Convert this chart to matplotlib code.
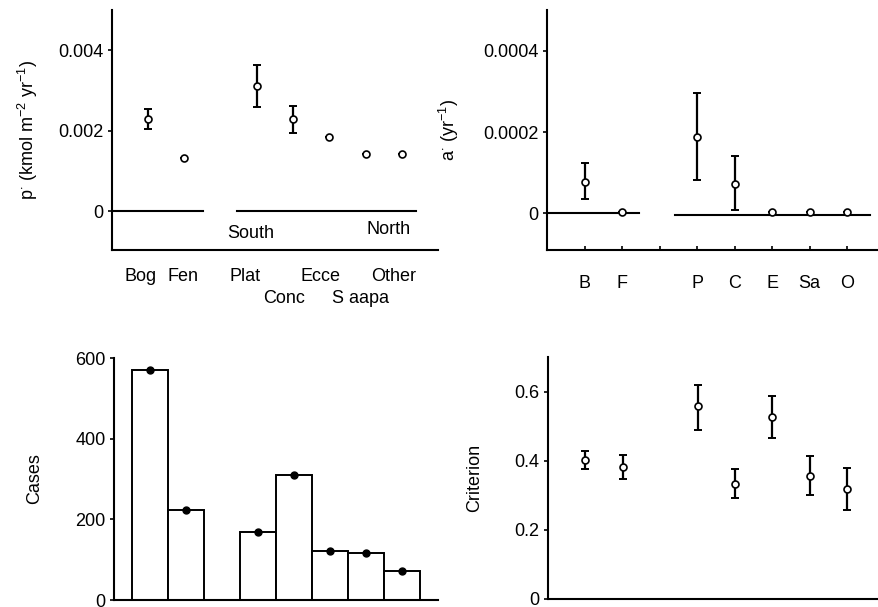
import matplotlib
matplotlib.use("Agg")
import matplotlib.pyplot as plt
import matplotlib.transforms as mtransforms

plt.rcParams["font.family"] = ["Liberation Sans", "DejaVu Sans"]
plt.rcParams["mathtext.fontset"] = "custom"
plt.rcParams["mathtext.rm"] = "Liberation Sans"
plt.rcParams["mathtext.it"] = "Liberation Sans"
FS = 13

# ---- data ----
p_names = ["Bog", "Fen", "Plat", "Conc", "Ecce", "S aapa", "Other"]
p_row = [0, 0, 0, 1, 0, 1, 0]
p_x = [1, 2, 4, 5, 6, 7, 8]
p_val = [0.00229, 0.00132, 0.00311, 0.00229, 0.00184, 0.00142, 0.00142]
p_lo = [0.00204, 0.00132, 0.00258, 0.00194, 0.00184, 0.00142, 0.00142]
p_hi = [0.00253, 0.00132, 0.00363, 0.00261, 0.00184, 0.00142, 0.00142]

a_names = ["B", "F", "", "P", "C", "E", "Sa", "O"]
a_ticks = [1, 2, 3, 4, 5, 6, 7, 8]
a_x = [1, 2, 4, 5, 6, 7, 8]
a_val = [0.0000785, 0.000003, 0.000189, 0.0000736, 0.000003, 0.000003, 0.000003]
a_lo = [0.0000344, 0.000003, 0.0000834, 0.0000074, 0.000003, 0.000003, 0.000003]
a_hi = [0.000123, 0.000003, 0.000297, 0.000142, 0.000003, 0.000003, 0.000003]

cases = [570, 224, 169, 311, 122, 117, 72]

crit_val = [0.403, 0.383, 0.557, 0.333, 0.525, 0.357, 0.319]
crit_lo = [0.377, 0.348, 0.490, 0.293, 0.467, 0.301, 0.258]
crit_hi = [0.429, 0.417, 0.620, 0.377, 0.586, 0.414, 0.380]

fig = plt.figure(figsize=(8.79, 6.07), dpi=100)
ax1 = fig.add_axes([0.1274, 0.588, 0.371, 0.3954])
ax2 = fig.add_axes([0.6223, 0.588, 0.3777, 0.3954])
ax3 = fig.add_axes([0.1297, 0.0115, 0.3686, 0.3987])
ax4 = fig.add_axes([0.6234, 0.0132, 0.3766, 0.3987])

for ax in (ax1, ax2, ax3, ax4):
    for s in ("top", "right"):
        ax.spines[s].set_visible(False)
    for s in ("left", "bottom"):
        ax.spines[s].set_linewidth(1.5)
    ax.tick_params(axis="y", direction="out", length=3, width=1.2, labelsize=FS, pad=3)
    ax.patch.set_visible(False)


def errpts(ax, x, v, lo, hi):
    ax.errorbar(x, v, yerr=[[a - b for a, b in zip(v, lo)], [b - a for a, b in zip(v, hi)]],
                fmt="none", ecolor="black", elinewidth=1.6, capsize=3, capthick=1.4, zorder=2)
    ax.plot(x, v, "o", ms=5, mfc="white", mec="black", mew=1.2, zorder=3)


# top left
errpts(ax1, p_x, p_val, p_lo, p_hi)
ax1.plot([0.05, 2.5], [0, 0], color="black", lw=1.5)
ax1.plot([3.45, 8.4], [0, 0], color="black", lw=1.5)
ax1.set_xlim(0, 9)
ax1.set_ylim(-0.00097, 0.005)
ax1.set_yticks([0, 0.002, 0.004])
ax1.set_yticklabels(["0", "0.002", "0.004"])
ax1.set_xticks([])
# category labels, staggered in two rows below the axis, slightly left of the points
trans = mtransforms.blended_transform_factory(ax1.transData, ax1.transAxes)
shift = [-0.22, -0.03, -0.33, -0.25, -0.25, -0.14, -0.23]
for name, xx, row, dx in zip(p_names, p_x, p_row, shift):
    ax1.text(xx + dx, -0.11 - 0.092 * row, name, transform=trans,
             ha="center", va="center", fontsize=FS)
ax1.text(3.83, -0.00055, "South", ha="center", va="center", fontsize=FS)
ax1.text(7.64, -0.00047, "North", ha="center", va="center", fontsize=FS)
ax1.set_ylabel(r"p$^{\cdot}$ (kmol m$^{-2}$ yr$^{-1}$)", fontsize=FS)
ax1.yaxis.set_label_coords(-0.22, 0.5)

# top right
errpts(ax2, a_x, a_val, a_lo, a_hi)
ax2.plot([0.0, 2.45], [0, 0], color="black", lw=1.5)
ax2.plot([3.4, 8.6], [-0.000003, -0.000003], color="black", lw=1.5)
ax2.set_xlim(0, 8.85)
ax2.set_ylim(-0.00009, 0.0005)
ax2.set_yticks([0, 0.0002, 0.0004])
ax2.set_yticklabels(["0", "0.0002", "0.0004"])
ax2.set_xticks(a_ticks)
ax2.set_xticklabels(a_names, fontsize=FS)
ax2.tick_params(axis="x", direction="in", length=3, width=1.2, pad=18)
ax2.set_ylabel(r"a$^{\cdot}$ (yr$^{-1}$)", fontsize=FS)
ax2.yaxis.set_label_coords(-0.26, 0.5)

# bottom left
ax3.bar(p_x, cases, width=1.0, facecolor="white", edgecolor="black", linewidth=1.4)
ax3.plot(p_x, cases, "o", ms=5, color="black", zorder=3)
ax3.set_xlim(0, 9)
ax3.set_ylim(0, 600)
ax3.set_yticks([0, 200, 400, 600])
ax3.set_xticks([])
ax3.set_ylabel("Cases", fontsize=FS)
ax3.yaxis.set_label_coords(-0.22, 0.5)

# bottom right
errpts(ax4, a_x, crit_val, crit_lo, crit_hi)
ax4.set_xlim(0, 8.85)
ax4.set_ylim(0, 0.7)
ax4.set_yticks([0, 0.2, 0.4, 0.6])
ax4.set_yticklabels(["0", "0.2", "0.4", "0.6"])
ax4.set_xticks([])
ax4.set_ylabel("Criterion", fontsize=FS)
ax4.yaxis.set_label_coords(-0.197, 0.5)

fig.savefig("out.png", dpi=100)
